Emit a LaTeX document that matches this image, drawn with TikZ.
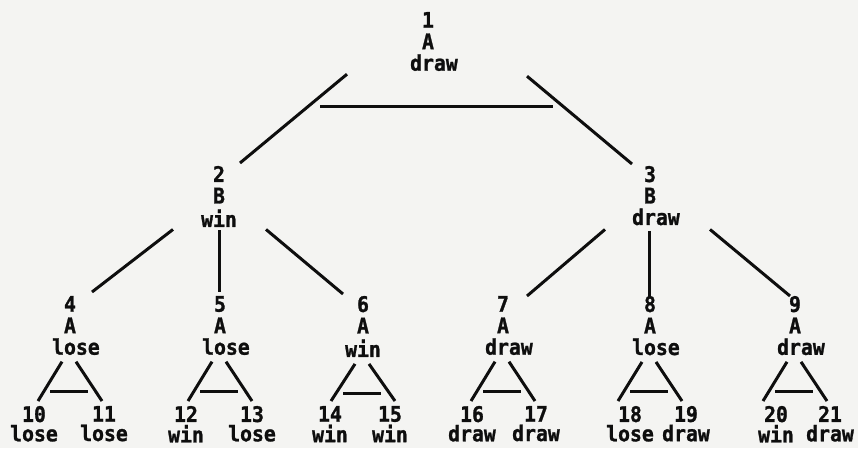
\documentclass[tikz,border=0pt]{standalone}
\usepackage{fontspec}
\setmonofont[FakeStretch=0.92, BoldFeatures={FakeBold=1.2}]{DejaVu Sans Mono}
% fixed line boxes so that node tops and bottoms are predictable
\newcommand\sr{\rule[-5pt]{0pt}{16.5pt}}
\newcommand\lr{\rule[-2pt]{0pt}{15pt}}
% half-character nudge for even-length words
\newcommand\hf{\hphantom{x}}
\definecolor{ink}{RGB}{14,14,14}
\definecolor{paper}{RGB}{244,244,242}
\begin{document}
\begin{tikzpicture}[x=1pt,y=-1pt,
  every node/.style={inner sep=0pt, outer sep=0pt, align=center, anchor=north, text=ink},
  gamenode/.style={font=\ttfamily\bfseries\fontsize{21.5}{21.5}\selectfont},
  leafnode/.style={font=\ttfamily\bfseries\fontsize{21.5}{17}\selectfont},
  link/.style={draw=ink, line width=3pt},
]
\fill[paper] (0,0) rectangle (858,448);
\useasboundingbox (0,0) rectangle (858,448);

% root
\node[gamenode] (n1) at (428,12) {\sr 1\\\sr A\\\sr\hf draw};
% second level
\node[gamenode] (n2) at (219,166) {\sr 2\\\sr B\\\sr win};
\node[gamenode] (n3) at (650,166) {\sr 3\\\sr B\\\sr\hf draw};
% third level
\node[gamenode] (n4) at (70,296)  {\sr 4\\\sr A\\\sr\hf lose};
\node[gamenode] (n5) at (220,296) {\sr 5\\\sr A\\\sr\hf lose};
\node[gamenode] (n6) at (363,296) {\sr 6\\\sr A\\\sr win};
\node[gamenode] (n7) at (503,296) {\sr 7\\\sr A\\\sr\hf draw};
\node[gamenode] (n8) at (650,296) {\sr 8\\\sr A\\\sr\hf lose};
\node[gamenode] (n9) at (795,296) {\sr 9\\\sr A\\\sr\hf draw};
% leaves
\node[leafnode] (n10) at (34,406)  {\lr 10\\\lr lose};
\node[leafnode] (n11) at (104,406) {\lr 11\\\lr lose};
\node[leafnode] (n12) at (186,406) {\lr 12\\\lr win};
\node[leafnode] (n13) at (252,406) {\lr 13\\\lr lose};
\node[leafnode] (n14) at (330,406) {\lr 14\\\lr win};
\node[leafnode] (n15) at (390,406) {\lr 15\\\lr win};
\node[leafnode] (n16) at (472,406) {\lr 16\\\lr draw};
\node[leafnode] (n17) at (536,406) {\lr 17\\\lr draw};
\node[leafnode] (n18) at (630,406) {\lr 18\\\lr lose};
\node[leafnode] (n19) at (686,406) {\lr 19\\\lr draw};
\node[leafnode] (n20) at (776,406) {\lr 20\\\lr win};
\node[leafnode] (n21) at (830,406) {\lr 21\\\lr draw};

% root branches and its bar
\draw[link] ([shift={(-81,-1.5)}]n1.south) -- ([shift={(21,-3)}]n2.north);
\draw[link] ([shift={(99,0.5)}]n1.south) -- ([shift={(-18,-2)}]n3.north);
\draw[link] ([shift={(-108,31)}]n1.south) -- ([shift={(125,31)}]n1.south);

% second-level branches
\draw[link] ([shift={(-46,-2.5)}]n2.south) -- ([shift={(22,-4)}]n4.north);
\draw[link] ([shift={(0,-1.5)}]n2.south) -- ([shift={(-1,-4)}]n5.north);
\draw[link] ([shift={(47,-2.5)}]n2.south) -- ([shift={(-20,-2)}]n6.north);
\draw[link] ([shift={(-45,-0.5)}]n3.south) -- ([shift={(24,0)}]n7.north);
\draw[link] ([shift={(-1,1)}]n3.south) -- ([shift={(-1,2)}]n8.north);
\draw[link] ([shift={(60,-0.5)}]n3.south) -- ([shift={(-5,0)}]n9.north);

% third-level branches with their bars
\foreach \p/\l/\dl/\r/\dr in {n4/n10/4/n11/-2, n5/n12/2/n13/0, n6/n14/1/n15/5,
                              n7/n16/-1/n17/-1, n8/n18/-12/n19/-4, n9/n20/-13/n21/-3}{
  \draw[link] ([shift={(-8,2)}]\p.south) -- ([shift={(\dl,-5)}]\l.north);
  \draw[link] ([shift={(6,2)}]\p.south) -- ([shift={(\dr,-5)}]\r.north);
  \draw[link] ([shift={(-20,32)}]\p.south) -- ([shift={(18,32)}]\p.south);
}
\end{tikzpicture}
\end{document}
